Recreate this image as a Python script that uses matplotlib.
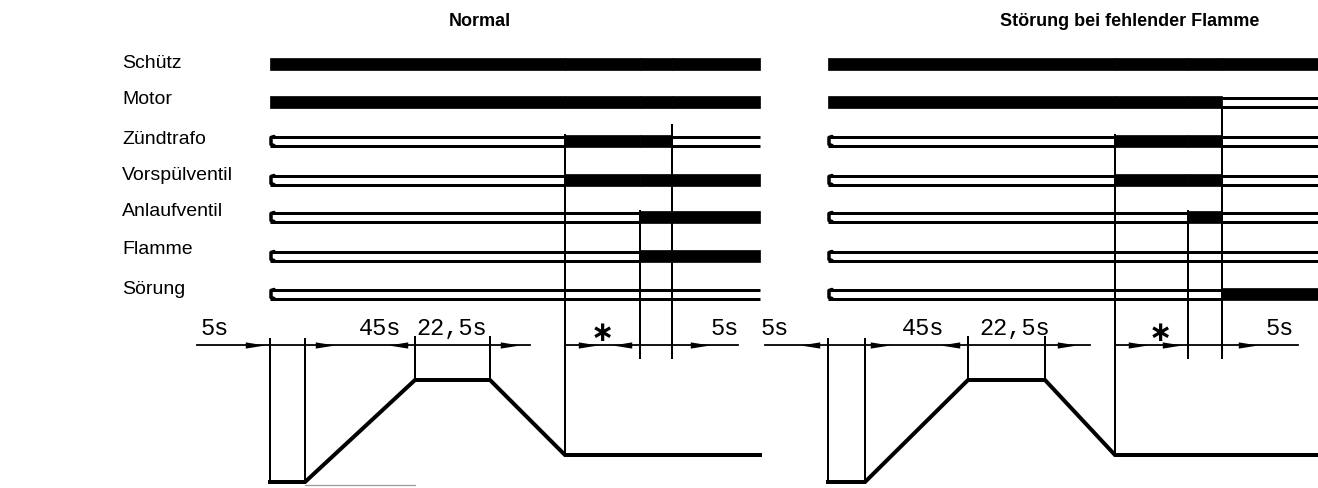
import matplotlib
matplotlib.use("Agg")
import matplotlib.pyplot as plt
from matplotlib.patches import Rectangle

# signal names and label rows
signals = ["Schütz", "Motor", "Zündtrafo", "Vorspülventil", "Anlaufventil", "Flamme", "Sörung"]
label_y = [63, 100, 139, 175, 212, 250, 290]
row_y = [64, 102, 141, 180, 217, 256, 294]

# phase states per signal (phases: start..t5, t5..t6, t6..t7, t7..end), 1 = on
states_normal = ["1111", "1111", "0110", "0111", "0011", "0011", "0000"]
states_fault = ["1111", "1110", "0110", "0110", "0010", "0000", "0001"]

# event positions relative to the bar start (diagram units)
events_normal = [0, 35, 145, 220, 295, 370, 402, 490]
events_fault = [0, 37, 140, 217, 287, 360, 394, 490]

# dimension labels: text and position
dim_text = ["5s", "45s", "22,5s", "*", "5s"]
dim_pos_normal = [-55, 110, 182, 332, 455]
dim_pos_fault = [-53, 95, 187, 332, 452]

# arrow heads on the dimension line: position, direction
arrows_normal = [(-15, 1), (55, 1), (128, -1), (240, 1), (318, 1), (352, -1), (430, 1)]
arrows_fault = [(-18, -1), (52, 1), (122, -1), (239, 1), (310, 1), (344, 1), (420, 1)]

# dimension line extents
dimline_normal = [(-73, 260), (295, 468)]
dimline_fault = [(-63, 262), (287, 470)]

titles = ["Normal", "Störung bei fehlender Flamme"]
title_x = [480, 1130]

W, H = 1318, 488
fig = plt.figure(figsize=(W / 100, H / 100), dpi=100)
ax = fig.add_axes([0, 0, 1, 1])
ax.set_xlim(0, W)
ax.set_ylim(H, 0)
ax.axis("off")

px = 0.72  # one pixel in points
bar_h = 12
edge = 3
dim_y = 345
y_high, y_low, y_mid = 380, 482, 455


def draw_panel(x0, ev, states, dpos, arrows, dimlines):
    breaks = [ev[0], ev[4], ev[5], ev[6], ev[7]]
    X = [x0 + e for e in ev]
    for r, st in enumerate(states):
        yc = row_y[r]
        top, bot = yc - bar_h / 2 + edge / 2, yc + bar_h / 2 - edge / 2
        for k in range(4):
            a, b = x0 + breaks[k], x0 + breaks[k + 1]
            if st[k] == "1":
                ax.add_patch(Rectangle((a, yc - bar_h / 2), b - a, bar_h,
                                       facecolor="black", edgecolor="black", lw=0.5))
            else:
                ax.plot([a, b], [top, top], color="black", lw=edge * px, solid_capstyle="butt")
                ax.plot([a, b], [bot, bot], color="black", lw=edge * px, solid_capstyle="butt")
        if st[0] == "0":
            ax.plot([X[0] + 4, X[0] + 1, X[0] + 1, X[0] + 4], [top, top + 1, bot - 1, bot],
                    color="black", lw=3.5 * px, solid_joinstyle="round", solid_capstyle="round")

    # vertical event lines
    lw_v = 2 * px
    ax.plot([X[4], X[4]], [row_y[2] - 6, y_mid], color="black", lw=lw_v)
    ax.plot([X[5], X[5]], [row_y[4] - 6, dim_y + 13], color="black", lw=lw_v)
    top7 = row_y[2] - 16 if states[1][3] == "1" else row_y[1] + 6
    ax.plot([X[6], X[6]], [top7, dim_y + 13], color="black", lw=lw_v)

    # dimension line
    for a, b in dimlines:
        ax.plot([x0 + a, x0 + b], [dim_y, dim_y], color="black", lw=1.8 * px)
    for p, d in arrows:
        ax.plot(x0 + p, dim_y, marker=[(-5 * d, -1.6), (5 * d, 0), (-5 * d, 1.6)],
                markersize=14, color="black", mew=0)
    for t, p in zip(dim_text, dpos):
        if t == "*":
            ax.text(x0 + p, dim_y - 12, "\u2217", ha="center", va="center",
                    family="DejaVu Sans", fontsize=20, fontweight="bold", color="black")
        else:
            ax.text(x0 + p, dim_y - 5, t, ha="center", va="bottom",
                    family="Liberation Mono", fontsize=17, color="black")

    # curve verticals
    ax.plot([X[0], X[0]], [dim_y - 6, y_low], color="black", lw=lw_v)
    ax.plot([X[1], X[1]], [dim_y - 6, y_low], color="black", lw=lw_v)
    ax.plot([X[2], X[2]], [dim_y - 8, y_high], color="black", lw=lw_v)
    ax.plot([X[3], X[3]], [dim_y - 8, y_high], color="black", lw=lw_v)

    # curve
    cx = [X[0], X[1], X[2], X[3], X[4], X[7]]
    cy = [y_low, y_low, y_high, y_high, y_mid, y_mid]
    ax.plot(cx, cy, color="black", lw=4 * px, solid_joinstyle="miter")


draw_panel(270, events_normal, states_normal, dim_pos_normal, arrows_normal, dimline_normal)
draw_panel(828, events_fault, states_fault, dim_pos_fault, arrows_fault, dimline_fault)
ax.plot([305, 415], [485, 485], color="#999999", lw=1.2 * px)

for name, y in zip(signals, label_y):
    ax.text(122, y, name, ha="left", va="center", family="Liberation Sans", fontsize=14)

for t, x in zip(titles, title_x):
    ax.text(x, 22, t, ha="center", va="center", family="Liberation Sans",
            fontsize=13, fontweight="bold")

fig.savefig("out.png", dpi=100)
